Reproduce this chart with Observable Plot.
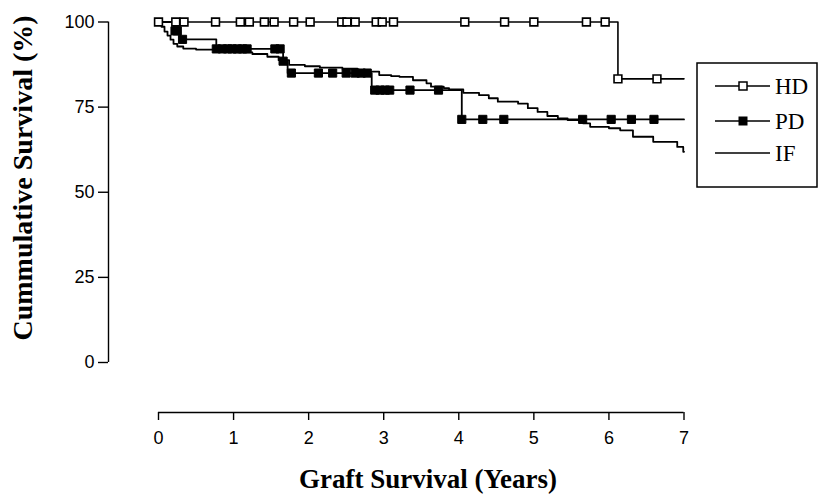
<!DOCTYPE html>
<html><head><meta charset="utf-8">
<script src="https://cdn.jsdelivr.net/npm/d3@7"></script>
<script src="https://cdn.jsdelivr.net/npm/@observablehq/plot@0.6"></script>
<style>body{margin:0;background:#fff} #chart{position:relative;width:819px;height:495px}</style>
</head><body><div id="chart"></div>
<script>
const xTicks = [0, 1, 2, 3, 4, 5, 6, 7];
const yTicks = [0, 25, 50, 75, 100];
const seriesNames = ["HD", "PD", "IF"];
const xTitle = "Graft Survival (Years)";
const yTitle = "Cummulative Survival (%)";
const endTime = 7;

// HD: step times / survival, censor marks
const hdTimes = [0, 6.12];
const hdSurv = [100, 83.3];
const hdCensor = [0, 0.23, 0.34, 0.76, 1.09, 1.21, 1.41, 1.54, 1.80, 2.02, 2.44, 2.51, 2.62, 2.90, 2.98, 3.13, 4.08, 4.61, 5.00, 5.70, 5.95, 6.12, 6.64];

// PD
const pdTimes = [0, 0.21, 0.29, 0.77, 1.66, 1.72, 2.84, 4.04];
const pdSurv = [100, 97.4, 94.9, 92.1, 88.5, 85.0, 80.0, 71.4];
const pdCensor = [0.22, 0.25, 0.32, 0.77, 0.85, 0.92, 0.98, 1.05, 1.12, 1.18, 1.55, 1.62, 1.66, 1.77, 2.13, 2.32, 2.5, 2.62, 2.7, 2.78, 2.88, 2.95, 3.02, 3.08, 3.35, 3.73, 4.04, 4.32, 4.6, 5.65, 6.03, 6.3, 6.6];

// IF (no censor marks)
const ifTimes = [0, 0.04, 0.08, 0.12, 0.16, 0.2, 0.25, 0.33, 0.5, 0.76, 1.0, 1.25, 1.45, 1.6, 1.74, 1.95, 2.15, 2.45, 2.65, 2.77, 2.94, 3.1, 3.21, 3.39, 3.57, 3.63, 3.8, 3.87, 4.06, 4.27, 4.4, 4.52, 4.79, 4.92, 5.05, 5.18, 5.32, 5.45, 5.66, 5.75, 6.0, 6.15, 6.32, 6.59, 6.91, 6.99];
const ifSurv = [100, 98.6, 97.2, 96, 94.8, 93.6, 92.8, 92.2, 91.9, 91.5, 91.1, 90.6, 89.8, 88.8, 87.4, 87.0, 86.6, 86.3, 85.9, 85.4, 84.4, 84.1, 83.9, 82.9, 82.0, 81.0, 80.6, 80.2, 79.2, 78.5, 77.6, 76.6, 76.0, 74.7, 73.6, 72.4, 71.7, 71.2, 70.2, 69.2, 68.8, 68.2, 66.3, 64.8, 63.3, 61.9];

function stepData(times, surv) {
  const d = times.map((t, i) => ({t, s: surv[i]}));
  d.push({t: endTime, s: surv[surv.length - 1]});
  return d;
}
function survAt(times, surv, t) {
  let v = surv[0];
  for (let i = 0; i < times.length; i++) if (times[i] <= t) v = surv[i];
  return v;
}
const hdLine = stepData(hdTimes, hdSurv);
const pdLine = stepData(pdTimes, pdSurv);
const ifLine = stepData(ifTimes, ifSurv);
const hdPts = hdCensor.map(t => ({t, s: survAt(hdTimes, hdSurv, t)}));
const pdPts = pdCensor.map(t => ({t, s: survAt(pdTimes, pdSurv, t)}));

const sans = "'Liberation Sans', Arial, sans-serif";
const serif = "'Liberation Serif', 'Times New Roman', serif";

const plot = Plot.plot({
  width: 819, height: 495,
  marginLeft: 158, marginRight: 135.5, marginTop: 21.5, marginBottom: 133,
  x: {domain: [0, 7]},
  y: {domain: [0, 100]},
  style: {background: "white", color: "black", fontFamily: sans},
  marks: [
    Plot.ruleX([0], {y1: 0, y2: 100, dx: -50, stroke: "black", strokeWidth: 1.4}),
    Plot.axisY(yTicks, {anchor: "left", dx: -50, tickSize: 10, tickPadding: 4, fontSize: 18, fontFamily: sans, label: null, strokeWidth: 1.4}),
    Plot.ruleY([0], {x1: 0, x2: 7, dy: 50, stroke: "black", strokeWidth: 1.4}),
    Plot.axisX(xTicks, {anchor: "bottom", dy: 50, tickSize: 8, tickPadding: 11, fontSize: 18, fontFamily: sans, label: null, strokeWidth: 1.4}),
    Plot.line(ifLine, {x: "t", y: "s", curve: "step-after", stroke: "black", strokeWidth: 1.8}),
    Plot.line(pdLine, {x: "t", y: "s", curve: "step-after", stroke: "black", strokeWidth: 1.8}),
    Plot.line(hdLine, {x: "t", y: "s", curve: "step-after", stroke: "black", strokeWidth: 1.6}),
    Plot.dot(pdPts, {x: "t", y: "s", symbol: "square", r: 4.6, fill: "black", stroke: "black", strokeWidth: 1}),
    Plot.dot(hdPts, {x: "t", y: "s", symbol: "square", r: 4.4, fill: "white", stroke: "black", strokeWidth: 1.6})
  ]
});
document.getElementById("chart").appendChild(plot);

const svg = d3.select(plot);
svg.selectAll('g[aria-label$="tick label"]').attr("font-size", 18).style("font-size", "18px");
svg.append("text").attr("x", 428).attr("y", 488).attr("text-anchor", "middle")
  .attr("font-family", serif).attr("font-weight", "bold").attr("font-size", 27).attr("fill", "black").text(xTitle);
svg.append("text").attr("transform", "translate(32,178) rotate(-90)").attr("text-anchor", "middle")
  .attr("font-family", serif).attr("font-weight", "bold").attr("font-size", 28).attr("fill", "black").text(yTitle);

// legend
const lg = svg.append("g");
lg.append("rect").attr("x", 697).attr("y", 63).attr("width", 120).attr("height", 124)
  .attr("fill", "white").attr("stroke", "black").attr("stroke-width", 1.5);
const rowsY = [86, 121, 153];
seriesNames.forEach((name, i) => {
  const y = rowsY[i];
  lg.append("line").attr("x1", 715).attr("x2", 770).attr("y1", y).attr("y2", y).attr("stroke", "black").attr("stroke-width", 1.6);
  if (i === 0) lg.append("rect").attr("x", 739).attr("y", y - 4).attr("width", 8).attr("height", 8).attr("fill", "white").attr("stroke", "black").attr("stroke-width", 1.5);
  if (i === 1) lg.append("rect").attr("x", 739).attr("y", y - 4).attr("width", 8).attr("height", 8).attr("fill", "black").attr("stroke", "black");
  lg.append("text").attr("x", 775).attr("y", y + 8).attr("text-anchor", "start").attr("font-family", serif).attr("font-size", 23).attr("fill", "black").text(name);
});
</script>
</body></html>
